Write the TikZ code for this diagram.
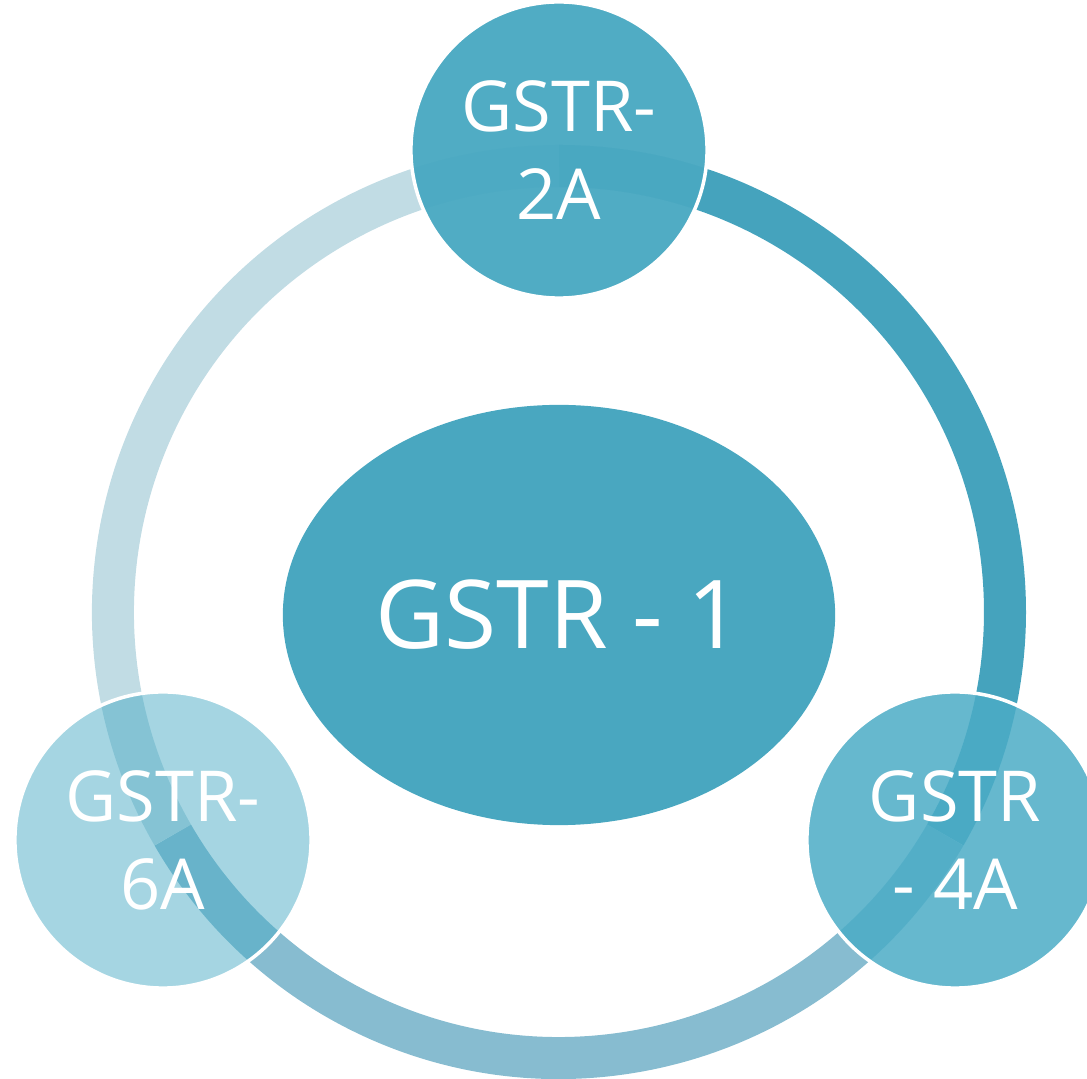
\documentclass[tikz,border=0pt]{standalone}
\usepackage{fontspec}
\setmainfont{Open Sans}
\usepackage{tikz}
\usetikzlibrary{shapes.geometric}
\usepackage{xcolor}
\definecolor{gstteal}{RGB}{75, 172, 198}
\definecolor{ringdark}{RGB}{69, 163, 189}
\definecolor{ringmid}{RGB}{135, 188, 208}
\definecolor{ringlight}{RGB}{193, 220, 228}

\tikzset{
    ringpart/.style={line width=0.42cm},
    returnbubble/.style={circle, fill=gstteal, draw=white, line width=1pt,
        minimum size=2.96cm, inner sep=0pt, text=white, align=center,
        font=\fontsize{20}{25}\selectfont}
}

\begin{document}
\begin{tikzpicture}[x=0.01cm, y=0.01cm]
    \useasboundingbox (-559,-467) rectangle (528,612);
    \clip (-559,-467) rectangle (528,612);
    \def\ringr{446}

    % Ring
    \draw[ringpart, ringdark] (90:\ringr) arc (90:-30:\ringr);
    \draw[ringpart, ringmid] (-30:\ringr) arc (-30:-150:\ringr);
    \draw[ringpart, ringlight] (210:\ringr) arc (210:90:\ringr);

    % Main return
    \node[ellipse, fill=gstteal!97!black, minimum width=5.52cm, minimum height=4.2cm,
        text=white, font=\fontsize{27}{32}\selectfont] (gstr1) at (0,-3) {GSTR - 1};

    % Linked returns
    \node[returnbubble, fill=gstteal!98!black, fill opacity=0.97, text opacity=1] (gstr2a) at (0,462) {GSTR-\\2A};
    \node[returnbubble, fill opacity=0.85, text opacity=1] (gstr4a) at (396,-228) {GSTR\\- 4A};
    \node[returnbubble, fill opacity=0.5, text opacity=1] (gstr6a) at (-396,-228) {GSTR-\\6A};
\end{tikzpicture}
\end{document}
